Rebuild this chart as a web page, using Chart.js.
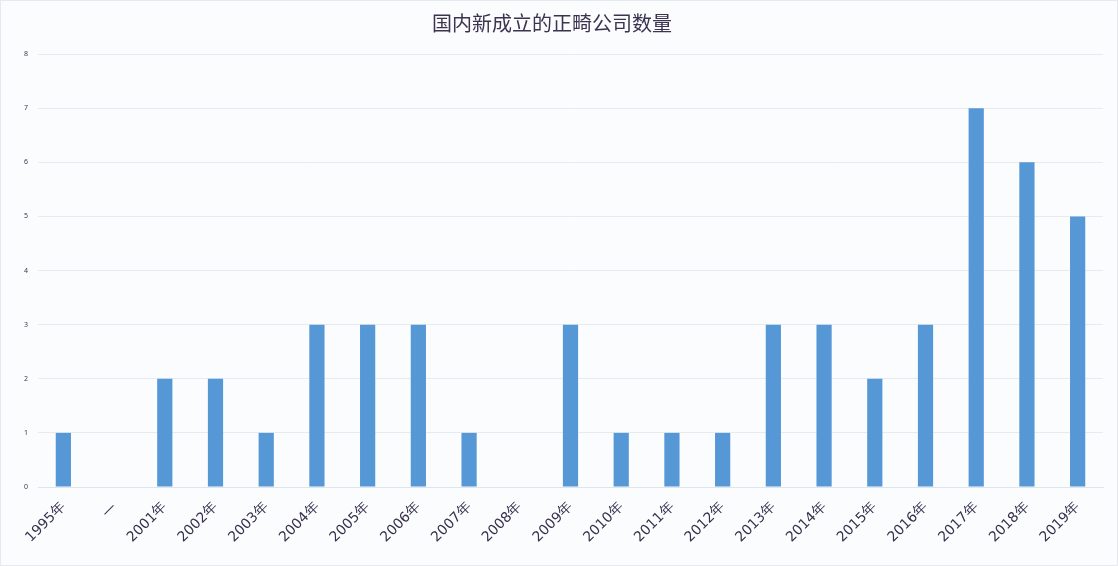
<!DOCTYPE html>
<html>
<head>
<meta charset="utf-8">
<script src="https://cdn.jsdelivr.net/npm/chart.js@4/dist/chart.umd.min.js"></script>
<style>
  html, body { margin: 0; padding: 0; background: #fbfcfe; }
  #wrap { width: 1118px; height: 566px; position: relative; box-sizing: border-box; border: 1px solid #e6eaef; }
</style>
</head>
<body>
<div id="wrap"><canvas id="chart"></canvas></div>
<script>
const years = ['1995年', '—', '2001年', '2002年', '2003年', '2004年', '2005年', '2006年', '2007年', '2008年',
  '2009年', '2010年', '2011年', '2012年', '2013年', '2014年', '2015年', '2016年', '2017年', '2018年', '2019年'];
const companyCounts = [1, 0, 2, 2, 1, 3, 3, 3, 1, 0, 3, 1, 1, 1, 3, 3, 2, 3, 7, 6, 5];
const yTicks = [0, 1, 2, 3, 4, 5, 6, 7, 8];

const ctx = document.getElementById('chart').getContext('2d');
new Chart(ctx, {
    type: 'bar',
    data: {
        labels: years,
        datasets: [{
            label: '数量',
            data: companyCounts,
            backgroundColor: '#5697d6',
            borderWidth: 0,
            barPercentage: 0.6,
            categoryPercentage: 0.5
        }]
    },
    options: {
        responsive: true,
        maintainAspectRatio: false,
        animation: false,
        layout: { padding: { left: 0, right: 14, top: 0, bottom: 4 } },
        scales: {
            x: {
                grid: { display: false },
                border: { display: true, color: '#dfe5ec' },
                ticks: {
                    maxRotation: 45, minRotation: 45, autoSkip: false,
                    padding: 4,
                    color: '#372f4c',
                    font: { family: 'DejaVu Sans', size: 14 }
                },
                afterFit: s => { s.height = 74; }
            },
            y: {
                min: 0, max: 8,
                afterBuildTicks: s => { s.ticks = yTicks.map(v => ({ value: v })); },
                grid: { color: '#e6ebf0', drawTicks: false },
                border: { display: false },
                ticks: {
                    padding: 10,
                    color: '#3b3450',
                    font: { family: 'Noto Sans', size: 7 }
                },
                afterFit: s => { s.width = 37; }
            }
        },
        plugins: {
            legend: { display: false },
            tooltip: { enabled: false },
            title: {
                display: true,
                text: '国内新成立的正畸公司数量',
                color: '#3d3350',
                font: { family: 'Noto Sans CJK SC', size: 20, weight: 'normal' },
                padding: { top: 10, bottom: 19 }
            }
        }
    }
});
</script>
</body>
</html>
